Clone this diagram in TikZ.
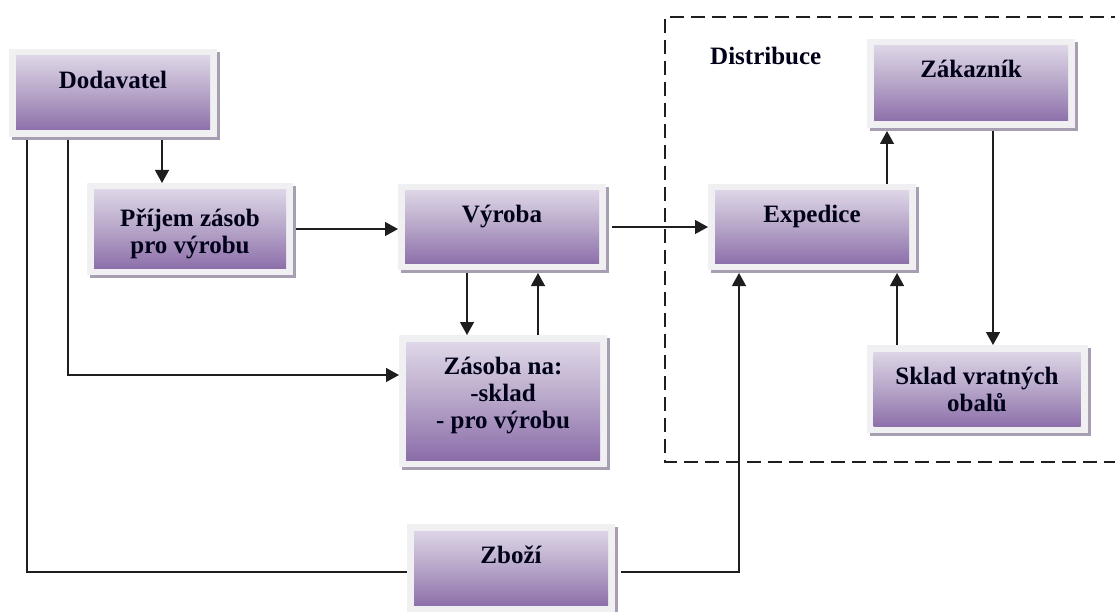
\documentclass[tikz,border=0pt]{standalone}
\usepackage{fontspec}
\setmainfont{Liberation Serif}
\usetikzlibrary{arrows.meta,shadows,calc}
\definecolor{framecol}{HTML}{F0EFF1}
\definecolor{shadowcol}{HTML}{A79EB2}
\definecolor{gtop}{HTML}{E4DEEC}
\definecolor{gmid}{HTML}{B6A5C8}
\definecolor{gbot}{HTML}{8666A5}
\definecolor{linecol}{HTML}{1E1E1E}
\tikzset{
  box/.style={inner sep=0pt, outer sep=0pt, fill=framecol,
    drop shadow={shadow xshift=3pt, shadow yshift=-3pt, fill=shadowcol, opacity=1},
    path picture={\shade[top color=gtop, bottom color=gbot, middle color=gmid]
      ([xshift=7pt,yshift=-7pt]path picture bounding box.north west) rectangle
      ([xshift=-7pt,yshift=7pt]path picture bounding box.south east);}},
  lbl/.style={font=\fontsize{25}{28}\selectfont\bfseries, text=black!90!blue, align=center, inner sep=0pt, anchor=base},
  arr/.style={draw=linecol, line width=1.3pt, -{Triangle[length=13pt,width=14pt]}},
  ln/.style={draw=linecol, line width=1.3pt},
  frm/.style={draw=linecol, line width=1.8pt, dash pattern=on 14pt off 7pt}
}
\begin{document}
\begin{tikzpicture}[x=1pt,y=-1pt]
\useasboundingbox (0,0) rectangle (1115,612);
% dashed distribution frame
\draw[frm] (1125,17) -- (665,17) -- (665,462) -- (1125,462);
\node[lbl, anchor=base west] (dist) at (710,65) {Distribuce};
% boxes
\node[box, minimum width=208pt, minimum height=88pt] (dod) at (113,93) {};
\node[box, minimum width=206pt, minimum height=92pt] (pri) at (190,229) {};
\node[box, minimum width=208pt, minimum height=86pt] (vyr) at (502,227) {};
\node[box, minimum width=208pt, minimum height=132pt] (zas) at (503,401) {};
\node[box, minimum width=208pt, minimum height=86pt] (exp) at (812,227) {};
\node[box, minimum width=208pt, minimum height=89pt] (zak) at (971,83.5) {};
\node[box, minimum width=221pt, minimum height=88pt] (skl) at (977,389) {};
\node[box, minimum width=208pt, minimum height=88pt] (zbo) at (511,568) {};
% labels
\node[lbl] (tdod) at (113,89) {Dodavatel};
\node[lbl] (tpri) at (190,254) {Příjem zásob\\pro výrobu};
\node[lbl, font=\fontsize{25}{27}\selectfont\bfseries] (tzas) at (503,428) {Zásoba na:\\-sklad\\- pro výrobu};
\node[lbl] (tvyr) at (502,223) {Výroba};
\node[lbl] (texp) at (812,223) {Expedice};
\node[lbl] (tzak) at (971,78) {Zákazník};
\node[lbl, font=\fontsize{25}{27}\selectfont\bfseries] (tskl) at (977,411) {Sklad vratných\\obalů};
\node[lbl] (tzbo) at (511,563) {Zboží};
% connectors
\draw[arr] ([xshift=49pt,yshift=-3pt]dod.south) -- ([xshift=49pt]dod.south |- pri.north);
\draw[arr] ([xshift=-45pt,yshift=-3pt]dod.south) |- ([yshift=26pt]zas.west);
\draw[ln] ([xshift=-86pt,yshift=-3pt]dod.south) |- ([yshift=-4pt]zbo.west);
\draw[arr] ([xshift=3pt]pri.east) -- (pri.east -| vyr.west);
\draw[arr] ([xshift=-35pt,yshift=-3pt]vyr.south) -- ([xshift=-35pt]vyr.south |- zas.north);
\draw[arr] ([xshift=35pt]zas.north) -- ([xshift=35pt,yshift=-3pt]zas.north |- vyr.south);
\draw[arr] ([xshift=6pt]vyr.east) -- (vyr.east -| exp.west);
\draw[arr] ([xshift=75pt]exp.north) -- ([xshift=75pt,yshift=-3pt]exp.north |- zak.south);
\draw[arr] ([xshift=22pt,yshift=-3pt]zak.south) -- ([xshift=22pt]zak.south |- skl.north);
\draw[arr] ([xshift=-80pt]skl.north) -- ([xshift=-80pt,yshift=-3pt]skl.north |- exp.south);
\draw[arr] ([shift={(6pt,-4pt)}]zbo.east) -| ([xshift=-73pt,yshift=-3pt]exp.south);
\end{tikzpicture}
\end{document}
